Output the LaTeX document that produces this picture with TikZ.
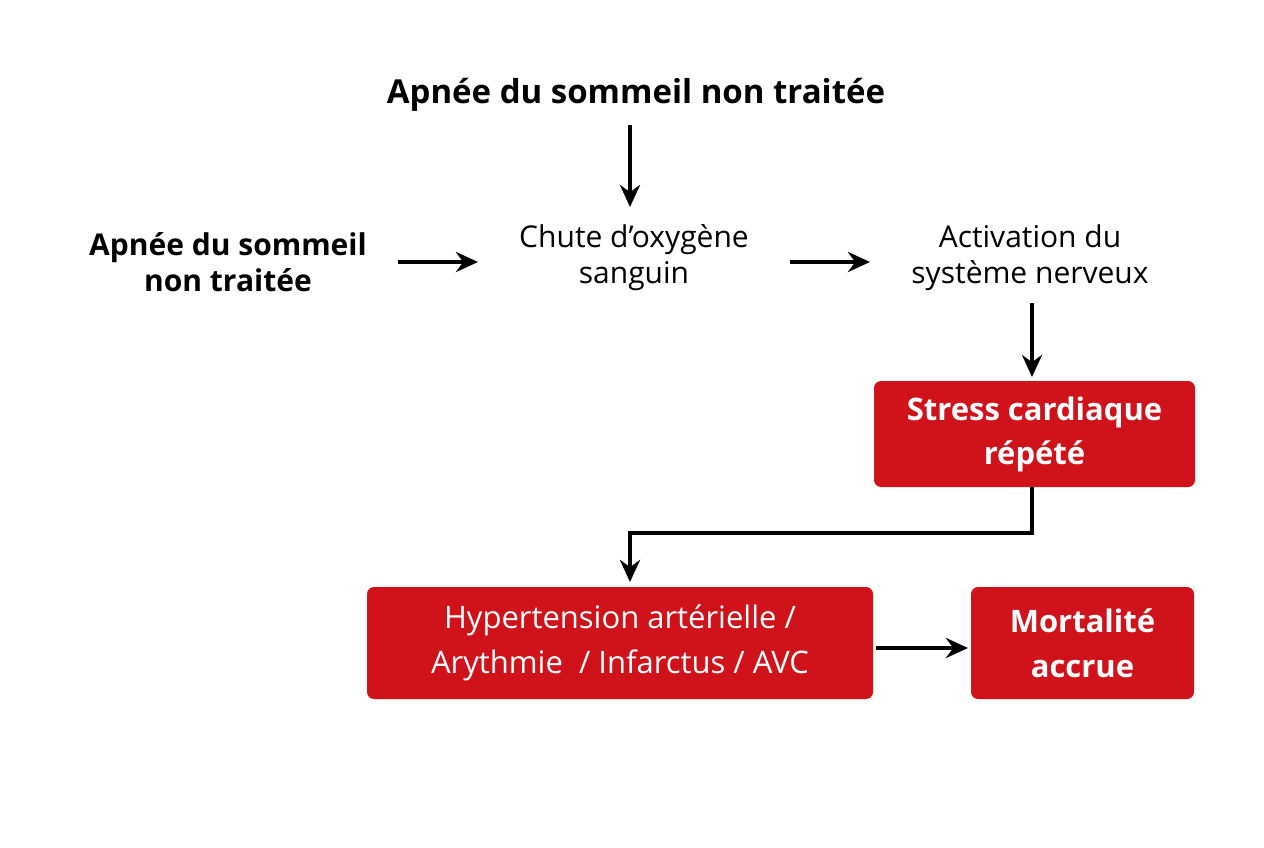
\documentclass[tikz,border=0pt]{standalone}
\usepackage{fontspec}
\setmainfont{Open Sans}
\usetikzlibrary{arrows.meta}
\definecolor{rd}{HTML}{D0121B}
\begin{document}
\begin{tikzpicture}[x=1pt,y=-1pt,
  txt/.style={align=center,font=\fontsize{30}{36}\selectfont},
  btxt/.style={txt,font=\fontsize{30}{36}\selectfont\bfseries},
  box/.style={fill=rd,rounded corners=7pt,text=white,align=center,inner sep=0pt},
  arr/.style={-{Stealth[length=22pt,width=20pt]},line width=4pt}]
\useasboundingbox (0,0) rectangle (1264,848);
\node[btxt,font=\fontsize{33}{38}\selectfont\bfseries] (top) at (636,95) {Apnée du sommeil non traitée};
\node[btxt] (left) at (228,262) {Apnée du sommeil\\non traitée};
\node[txt] (chute) at (634,258) {Chute d’oxygène\\sanguin};
\node[txt] (act) at (1030,258) {Activation du\\système nerveux};
\node[box,minimum width=321pt,minimum height=106pt,font=\fontsize{31}{44}\selectfont\bfseries] (stress) at (1034.5,434) {Stress cardiaque\\répété};
\node[box,minimum width=506pt,minimum height=112pt,font=\fontsize{31}{45}\selectfont] (hyp) at (620,643) {Hypertension artérielle /\\Arythmie~~/ Infarctus / AVC};
\node[box,minimum width=223pt,minimum height=112pt,font=\fontsize{31}{45}\selectfont\bfseries] (mort) at (1082.5,643) {Mortalité\\accrue};
\coordinate (a1) at (630,125); \coordinate (a2) at (630,207);
\draw[arr] (a1) -- (a2);
\coordinate (b1) at (398,262); \coordinate (b2) at (478,262);
\draw[arr] (b1) -- (b2);
\coordinate (c1) at (790,262); \coordinate (c2) at (870,262);
\draw[arr] (c1) -- (c2);
\coordinate (d1) at (1032,303);
\draw[arr] (d1) -- (1032,377);
\draw[arr] (1032,487) -- (1032,533) -- (630,533) -- (630,582);
\draw[arr] (hyp.east) ++(3,5) -- (968,648);
\end{tikzpicture}
\end{document}
